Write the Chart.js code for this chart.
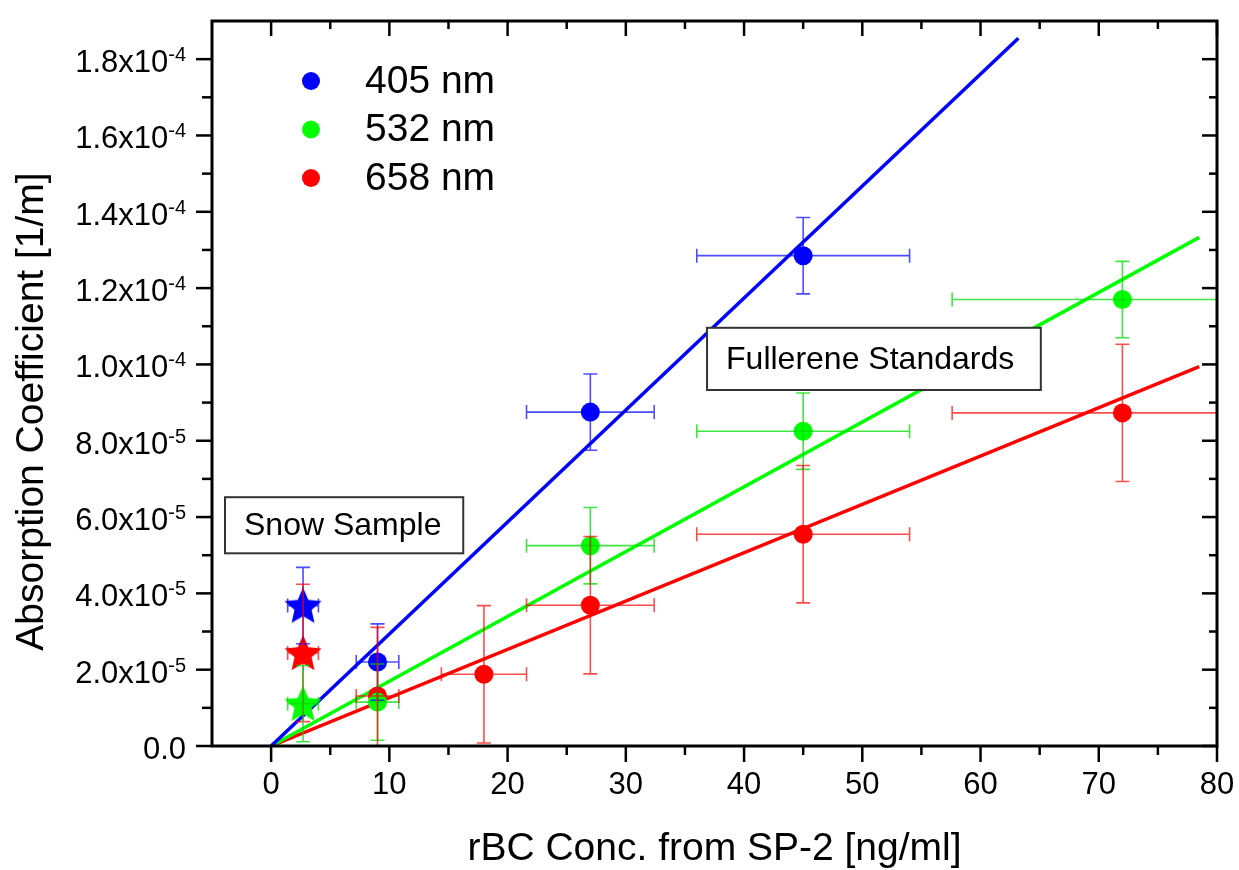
<!DOCTYPE html>
<html>
<head>
<meta charset="utf-8">
<script src="https://cdn.jsdelivr.net/npm/chart.js@4"></script>
<style>
  html, body { margin: 0; padding: 0; background: #fff; }
  canvas { display: block; }
</style>
</head>
<body>
<canvas id="chart" width="1239" height="870"></canvas>
<script>
const FONT = '"Liberation Sans", Arial, sans-serif';

const series = ['405 nm', '532 nm', '658 nm'];

// fullerene standards
const conc405 = [9, 27, 45];
const concErr405 = [1.8, 5.4, 9];
const abs405 = [2.2e-5, 8.75e-5, 1.285e-4];
const absErr405 = [1e-5, 1e-5, 1e-5];

const conc532 = [9, 27, 45, 72];
const concErr532 = [1.8, 5.4, 9, 14.4];
const abs532 = [1.15e-5, 5.25e-5, 8.25e-5, 1.17e-4];
const absErr532 = [1e-5, 1e-5, 1e-5, 1e-5];

const conc658 = [9, 18, 27, 45, 72];
const concErr658 = [1.8, 3.6, 5.4, 9, 14.4];
const abs658 = [1.31e-5, 1.88e-5, 3.69e-5, 5.55e-5, 8.73e-5];
const absErr658 = [1.8e-5, 1.8e-5, 1.8e-5, 1.8e-5, 1.8e-5];

// snow sample, one value per wavelength
const snowConc = [2.7, 2.7, 2.7];
const snowConcErr = [1.3, 1.3, 1.3];
const snowAbs = [3.68e-5, 1.11e-5, 2.44e-5];
const snowAbsErr = [1e-5, 1e-5, 1.8e-5];

// linear fits through the origin (start, end)
const fitX405 = [0, 63.2];
const fitY405 = [0, 1.855e-4];
const fitX532 = [0, 78.5];
const fitY532 = [0, 1.333e-4];
const fitX658 = [0, 78.5];
const fitY658 = [0, 0.994e-4];

// axis ticks
const xTicks = [0, 10, 20, 30, 40, 50, 60, 70, 80];
const xMinorTicks = [5, 15, 25, 35, 45, 55, 65, 75];
const yTicks = [0, 2e-5, 4e-5, 6e-5, 8e-5, 1e-4, 1.2e-4, 1.4e-4, 1.6e-4, 1.8e-4];
const yTickMant = ['0.0', '2.0x10', '4.0x10', '6.0x10', '8.0x10', '1.0x10', '1.2x10', '1.4x10', '1.6x10', '1.8x10'];
const yTickExp = ['', '-5', '-5', '-5', '-5', '-4', '-4', '-4', '-4', '-4'];
const yMinorTicks = [1e-5, 3e-5, 5e-5, 7e-5, 9e-5, 1.1e-4, 1.3e-4, 1.5e-4, 1.7e-4];

const colors = ['#0000ff', '#00ff00', '#ff0000'];
const errColors = ['rgba(0,0,255,0.7)', 'rgba(0,220,0,0.75)', 'rgba(255,0,0,0.7)'];

function pts(xs, ys) {
  return xs.map((v, i) => ({ x: v, y: ys[i] }));
}

function starImage(color) {
  const c = document.createElement('canvas');
  c.width = c.height = 40;
  const g = c.getContext('2d');
  g.beginPath();
  for (let i = 0; i < 10; i++) {
    const r = i % 2 ? 9 : 19.5;
    const a = -Math.PI / 2 + i * Math.PI / 5;
    g.lineTo(20 + r * Math.cos(a), 21.5 + r * Math.sin(a));
  }
  g.closePath();
  g.fillStyle = color;
  g.fill();
  return c;
}

const fitSets = [[fitX405, fitY405], [fitX532, fitY532], [fitX658, fitY658]];
const stdSets = [
  [conc405, abs405, concErr405, absErr405],
  [conc532, abs532, concErr532, absErr532],
  [conc658, abs658, concErr658, absErr658]
];

const datasets = [];
fitSets.forEach((f, i) => {
  datasets.push({
    label: series[i] + ' fit',
    data: pts(f[0], f[1]),
    showLine: true,
    borderColor: colors[i],
    borderWidth: 3.5,
    pointRadius: 0,
    order: 3
  });
});
stdSets.forEach((s, i) => {
  datasets.push({
    label: series[i],
    data: pts(s[0], s[1]),
    xErr: s[2],
    yErr: s[3],
    errorColor: errColors[i],
    pointStyle: 'circle',
    pointRadius: 9.5,
    backgroundColor: colors[i],
    borderWidth: 0,
    order: 2
  });
});
[0, 2, 1].forEach(i => {
  datasets.push({
    label: series[i] + ' snow',
    data: [{ x: snowConc[i], y: snowAbs[i] }],
    xErr: [snowConcErr[i]],
    yErr: [snowAbsErr[i]],
    errorColor: errColors[i],
    pointStyle: starImage(colors[i]),
    pointRadius: 20,
    order: 1
  });
});

const errorBars = {
  id: 'errorBars',
  afterDatasetsDraw(chart) {
    const { ctx, chartArea: a, scales: { x, y } } = chart;
    ctx.save();
    ctx.beginPath();
    ctx.rect(a.left, a.top, a.right - a.left, a.bottom - a.top);
    ctx.clip();
    ctx.lineWidth = 1.6;
    const cap = 7;
    chart.data.datasets.forEach(ds => {
      if (!ds.xErr) return;
      ctx.strokeStyle = ds.errorColor;
      ds.data.forEach((p, i) => {
        const px = x.getPixelForValue(p.x), py = y.getPixelForValue(p.y);
        const x0 = x.getPixelForValue(p.x - ds.xErr[i]), x1 = x.getPixelForValue(p.x + ds.xErr[i]);
        const y0 = y.getPixelForValue(p.y - ds.yErr[i]), y1 = y.getPixelForValue(p.y + ds.yErr[i]);
        ctx.beginPath();
        ctx.moveTo(x0, py); ctx.lineTo(x1, py);
        ctx.moveTo(x0, py - cap); ctx.lineTo(x0, py + cap);
        ctx.moveTo(x1, py - cap); ctx.lineTo(x1, py + cap);
        ctx.moveTo(px, y0); ctx.lineTo(px, y1);
        ctx.moveTo(px - cap, y0); ctx.lineTo(px + cap, y0);
        ctx.moveTo(px - cap, y1); ctx.lineTo(px + cap, y1);
        ctx.stroke();
      });
    });
    ctx.restore();
  }
};

// text boxes, placed in data units
const notes = [
  { text: 'Snow Sample', x0: -3.9, x1: 16.25, y0: 6.52e-5, y1: 5.05e-5 },
  { text: 'Fullerene Standards', x0: 36.87, x1: 65.1, y0: 10.96e-5, y1: 9.33e-5 }
];

const decorations = {
  id: 'decorations',
  afterDraw(chart) {
    const { ctx, chartArea: a, scales: { x, y } } = chart;
    ctx.save();

    // annotation boxes
    notes.forEach(n => {
      const l = x.getPixelForValue(n.x0), r = x.getPixelForValue(n.x1);
      const t = y.getPixelForValue(n.y0), b = y.getPixelForValue(n.y1);
      ctx.fillStyle = '#fff';
      ctx.fillRect(l, t, r - l, b - t);
      ctx.strokeStyle = '#333';
      ctx.lineWidth = 2;
      ctx.strokeRect(l, t, r - l, b - t);
      ctx.fillStyle = '#000';
      ctx.font = '32px ' + FONT;
      ctx.textAlign = 'left';
      ctx.textBaseline = 'middle';
      ctx.fillText(n.text, l + 19, (t + b) / 2 + 1);
    });

    // legend
    series.forEach((s, i) => {
      const cy = a.top + 60 + i * 48.5;
      ctx.fillStyle = colors[i];
      ctx.beginPath();
      ctx.arc(a.left + 99, cy, 9, 0, Math.PI * 2);
      ctx.fill();
      ctx.fillStyle = '#000';
      ctx.font = '39px ' + FONT;
      ctx.textAlign = 'left';
      ctx.textBaseline = 'middle';
      ctx.fillText(s, a.left + 153, cy + 1);
    });

    // frame and ticks
    ctx.strokeStyle = '#000';
    ctx.lineWidth = 3;
    ctx.strokeRect(a.left, a.top, a.right - a.left, a.bottom - a.top);
    ctx.lineWidth = 2.5;
    const seg = (x1, y1, x2, y2) => {
      ctx.beginPath(); ctx.moveTo(x1, y1); ctx.lineTo(x2, y2); ctx.stroke();
    };
    xTicks.forEach(v => {
      const px = x.getPixelForValue(v);
      seg(px, a.bottom, px, a.bottom + 16);
      seg(px, a.top, px, a.top + 15);
    });
    xMinorTicks.forEach(v => {
      const px = x.getPixelForValue(v);
      seg(px, a.bottom, px, a.bottom + 9);
      seg(px, a.top, px, a.top + 8);
    });
    yTicks.forEach(v => {
      const py = y.getPixelForValue(v);
      seg(a.left - 16, py, a.left, py);
      seg(a.right - 15, py, a.right, py);
    });
    yMinorTicks.forEach(v => {
      const py = y.getPixelForValue(v);
      seg(a.left - 10, py, a.left, py);
      seg(a.right - 8, py, a.right, py);
    });

    // y tick labels with superscript exponents
    ctx.fillStyle = '#000';
    ctx.textAlign = 'right';
    ctx.textBaseline = 'alphabetic';
    yTicks.forEach((v, i) => {
      const py = y.getPixelForValue(v);
      let right = a.left - 26;
      if (yTickExp[i]) {
        ctx.font = '20px ' + FONT;
        ctx.fillText(yTickExp[i], right, py + 2);
        right -= ctx.measureText(yTickExp[i]).width;
      }
      ctx.font = '31px ' + FONT;
      ctx.fillText(yTickMant[i], right, py + 13);
    });

    // y axis title
    ctx.translate(32, (a.top + a.bottom) / 2 + 28);
    ctx.rotate(-Math.PI / 2);
    ctx.textAlign = 'center';
    ctx.textBaseline = 'middle';
    ctx.font = '39px ' + FONT;
    ctx.fillText('Absorption Coefficient [1/m]', 0, 0);
    ctx.restore();
  }
};

Chart.defaults.font.family = FONT;

new Chart(document.getElementById('chart'), {
  type: 'scatter',
  data: { datasets },
  options: {
    responsive: false,
    devicePixelRatio: 1,
    animation: false,
    events: [],
    layout: { padding: { top: 10, right: 22, left: 0, bottom: 0 } },
    plugins: {
      legend: { display: false },
      tooltip: { enabled: false }
    },
    scales: {
      x: {
        type: 'linear',
        min: -5,
        max: 80,
        afterBuildTicks: s => { s.ticks = xTicks.map(v => ({ value: v })); },
        afterFit: s => { s.height = 124; s.paddingLeft = 0; s.paddingRight = 0; },
        grid: { display: false, drawTicks: false },
        border: { display: false },
        ticks: {
          autoSkip: false,
          maxRotation: 0,
          padding: 21,
          color: '#000',
          font: { size: 31 }
        },
        title: {
          display: true,
          text: 'rBC Conc. from SP-2 [ng/ml]',
          color: '#000',
          font: { size: 39, lineHeight: 1 },
          padding: { top: 0, bottom: 1 }
        }
      },
      y: {
        type: 'linear',
        min: 0,
        max: 1.9e-4,
        afterBuildTicks: s => { s.ticks = yTicks.map(v => ({ value: v })); },
        afterFit: s => { s.width = 212; s.paddingTop = 0; s.paddingBottom = 0; },
        grid: { display: false, drawTicks: false },
        border: { display: false },
        ticks: { display: false }
      }
    }
  },
  plugins: [errorBars, decorations]
});
</script>
</body>
</html>
